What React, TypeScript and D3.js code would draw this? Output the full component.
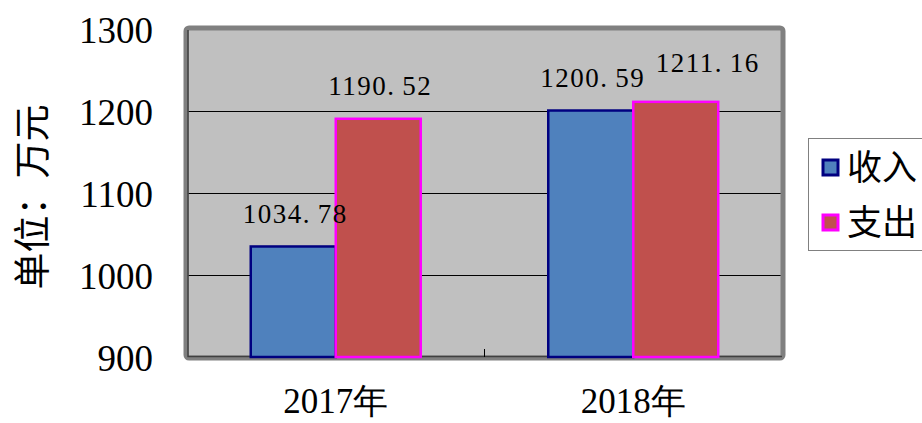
import * as d3 from "d3";
import { useEffect, useRef } from "react";

const categories = ["2017年", "2018年"];
const seriesNames = ["收入", "支出"];
const income = [1034.78, 1200.59];
const expense = [1190.52, 1211.16];
const yTicks = [900, 1000, 1100, 1200, 1300];

const fills = ["#4F81BD", "#C0504D"];
const strokes = ["#000080", "#FF00FF"];

export default function App() {
  const ref = useRef<SVGSVGElement>(null);

  useEffect(() => {
    document.body.style.margin = "0";
    const svg = d3.select(ref.current);
    svg.selectAll("*").remove();

    const left = 187,
      right = 782,
      top = 29,
      bottom = 357;

    const x = d3.scaleBand().domain(categories).range([left, right]);
    const sub = d3
      .scaleBand()
      .domain(seriesNames)
      .range([0, x.bandwidth()])
      .paddingInner(0)
      .paddingOuter(0.75);
    const y = d3.scaleLinear().domain([900, 1300]).range([bottom, top]);

    const serif = "Liberation Serif, Times New Roman, DejaVu Serif, serif";
    const cjk = "Noto Sans CJK SC, sans-serif";

    // plot background
    svg
      .append("rect")
      .attr("x", left)
      .attr("y", top)
      .attr("width", right - left)
      .attr("height", bottom - top)
      .attr("fill", "#C0C0C0");

    // gridlines
    svg
      .append("g")
      .selectAll("line")
      .data(yTicks.slice(1, -1))
      .enter()
      .append("line")
      .attr("x1", left)
      .attr("x2", right)
      .attr("y1", (d) => Math.round(y(d)) + 0.5)
      .attr("y2", (d) => Math.round(y(d)) + 0.5)
      .attr("stroke", "#000")
      .attr("stroke-width", 1);

    // border
    svg
      .append("rect")
      .attr("x", left - 1)
      .attr("y", top - 1)
      .attr("width", right - left + 2)
      .attr("height", bottom - top + 2)
      .attr("fill", "none")
      .attr("stroke", "#808080")
      .attr("stroke-width", 5)
      .attr("rx", 3);
    svg
      .append("path")
      .attr("d", `M${left + 1},${top + 1}V${bottom - 0.5}H${right}`)
      .attr("fill", "none")
      .attr("stroke", "#404040")
      .attr("stroke-width", 1.5);

    // category separator tick
    svg
      .append("line")
      .attr("x1", x(categories[1])!)
      .attr("x2", x(categories[1])!)
      .attr("y1", bottom - 8)
      .attr("y2", bottom)
      .attr("stroke", "#000");

    const series = [income, expense];
    const bars = svg.append("g");
    categories.forEach((c, ci) => {
      series.forEach((vals, si) => {
        const bx = x(c)! + sub(seriesNames[si])!;
        const v = vals[ci];
        bars
          .append("rect")
          .attr("x", bx)
          .attr("y", y(v))
          .attr("width", sub.bandwidth())
          .attr("height", bottom - y(v))
          .attr("fill", fills[si])
          .attr("stroke", strokes[si])
          .attr("stroke-width", 2.5);
      });
    });

    // value labels
    categories.forEach((c, ci) => {
      series.forEach((vals, si) => {
        const v = vals[ci];
        let cx = x(c)! + sub(seriesNames[si])! + sub.bandwidth() / 2;
        let dy = 23.5;
        // nudge the label when it would collide with its neighbour
        if (si === 1 && Math.abs(series[0][ci] - v) < 30) {
          cx += 30;
          dy += 6;
        }
        const [int, dec] = v.toFixed(2).split(".");
        svg
          .append("text")
          .attr("x", cx + 2)
          .attr("y", y(v) - dy)
          .attr("text-anchor", "middle")
          .style("font-family", serif)
          .attr("font-size", 27)
          .attr("letter-spacing", 1.5)
          .attr("fill", "#000")
          .text(`${int}.\u2009${dec}`);
      });
    });

    // y tick labels
    svg
      .append("g")
      .selectAll("text")
      .data(yTicks)
      .enter()
      .append("text")
      .attr("x", 153)
      .attr("y", (d) => y(d) + 14)
      .attr("text-anchor", "end")
      .style("font-family", serif)
      .attr("font-size", 37)
      .text((d) => d);

    // x labels
    svg
      .append("g")
      .selectAll("text")
      .data(categories)
      .enter()
      .append("text")
      .attr("x", (d) => x(d)! + x.bandwidth() / 2)
      .attr("y", 413)
      .attr("text-anchor", "middle")
      .style("font-family", serif)
      .attr("font-size", 35)
      .text((d) => d);

    // y axis title
    svg
      .append("text")
      .attr("transform", "translate(46,197) rotate(-90)")
      .attr("text-anchor", "middle")
      .style("font-family", cjk)
      .attr("font-size", 37)
      .text("单位：万元");

    // legend
    const lg = svg.append("g");
    lg.append("rect")
      .attr("x", 808.5)
      .attr("y", 138.5)
      .attr("width", 116)
      .attr("height", 112)
      .attr("fill", "#fff")
      .attr("stroke", "#808080")
      .attr("stroke-width", 1);
    seriesNames.forEach((n, i) => {
      const cy = 167.5 + i * 55;
      lg.append("rect")
        .attr("x", 823)
        .attr("y", cy - 7.5)
        .attr("width", 15)
        .attr("height", 15)
        .attr("fill", fills[i])
        .attr("stroke", strokes[i])
        .attr("stroke-width", 3);
      lg.append("text")
        .attr("x", 847)
        .attr("y", cy + 12)
        .style("font-family", cjk)
        .attr("font-size", 35)
        .text(n);
    });
  }, []);

  return <svg ref={ref} width={922} height={423} style={{ display: "block" }} />;
}
